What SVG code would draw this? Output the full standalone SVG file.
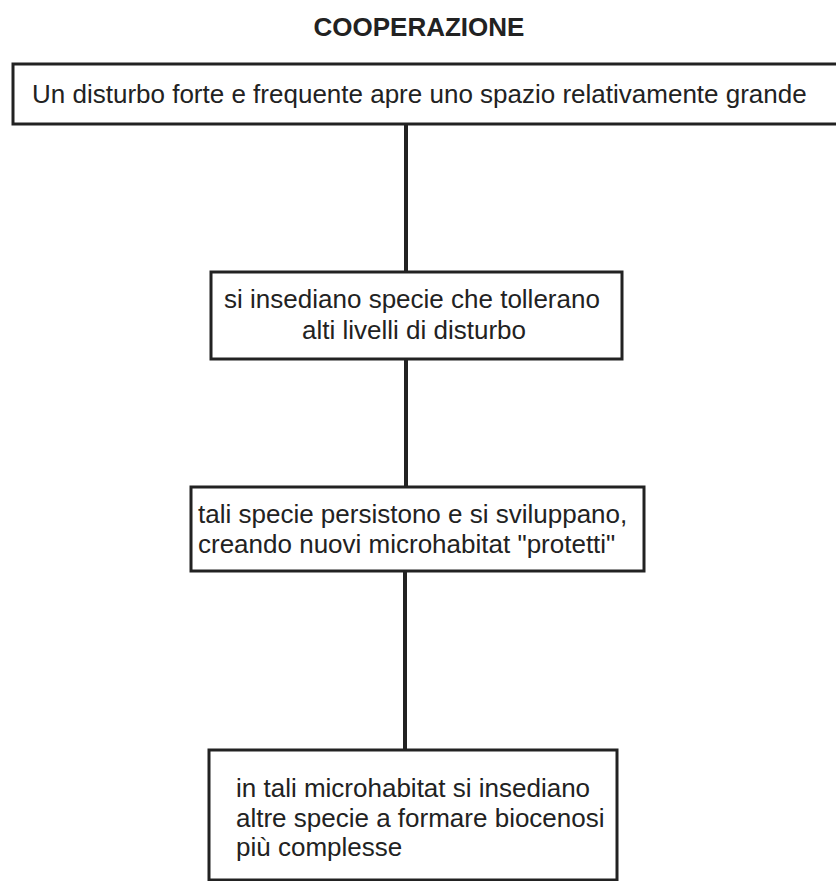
<svg xmlns="http://www.w3.org/2000/svg" width="836" height="881" viewBox="0 0 836 881">
<style>
.box{fill:#fff;stroke:#222;stroke-width:3}
.t{font-family:"Liberation Sans",Arial,sans-serif;font-size:26px;fill:#222}
.title{font-family:"Liberation Sans",Arial,sans-serif;font-size:26px;font-weight:bold;fill:#222}
.conn{stroke:#222;stroke-width:4;fill:none}
</style>
<rect width="836" height="881" fill="#fff"/>
<text class="title" x="419" y="36" text-anchor="middle">COOPERAZIONE</text>
<g id="connectors">
<line class="conn" x1="406" y1="124" x2="406" y2="272"/>
<line class="conn" x1="406" y1="359" x2="406" y2="487"/>
<line class="conn" x1="405" y1="571" x2="405" y2="750"/>
</g>
<g id="n1">
<rect class="box" x="13" y="64" width="830" height="60"/>
<text class="t" x="32" y="103">Un disturbo forte e frequente apre uno spazio relativamente grande</text>
</g>
<g id="n2">
<rect class="box" x="211" y="272" width="411" height="87"/>
<text class="t" x="412" y="308" text-anchor="middle">si insediano specie che tollerano</text>
<text class="t" x="414" y="339" text-anchor="middle">alti livelli di disturbo</text>
</g>
<g id="n3">
<rect class="box" x="191" y="487" width="453" height="84"/>
<text class="t" x="198" y="523">tali specie persistono e si sviluppano,</text>
<text class="t" x="198" y="553">creando nuovi microhabitat "protetti"</text>
</g>
<g id="n4">
<rect class="box" x="209" y="750" width="408" height="130"/>
<text class="t" x="236" y="797">in tali microhabitat si insediano</text>
<text class="t" x="236" y="827">altre specie a formare biocenosi</text>
<text class="t" x="236" y="856">più complesse</text>
</g>
</svg>
